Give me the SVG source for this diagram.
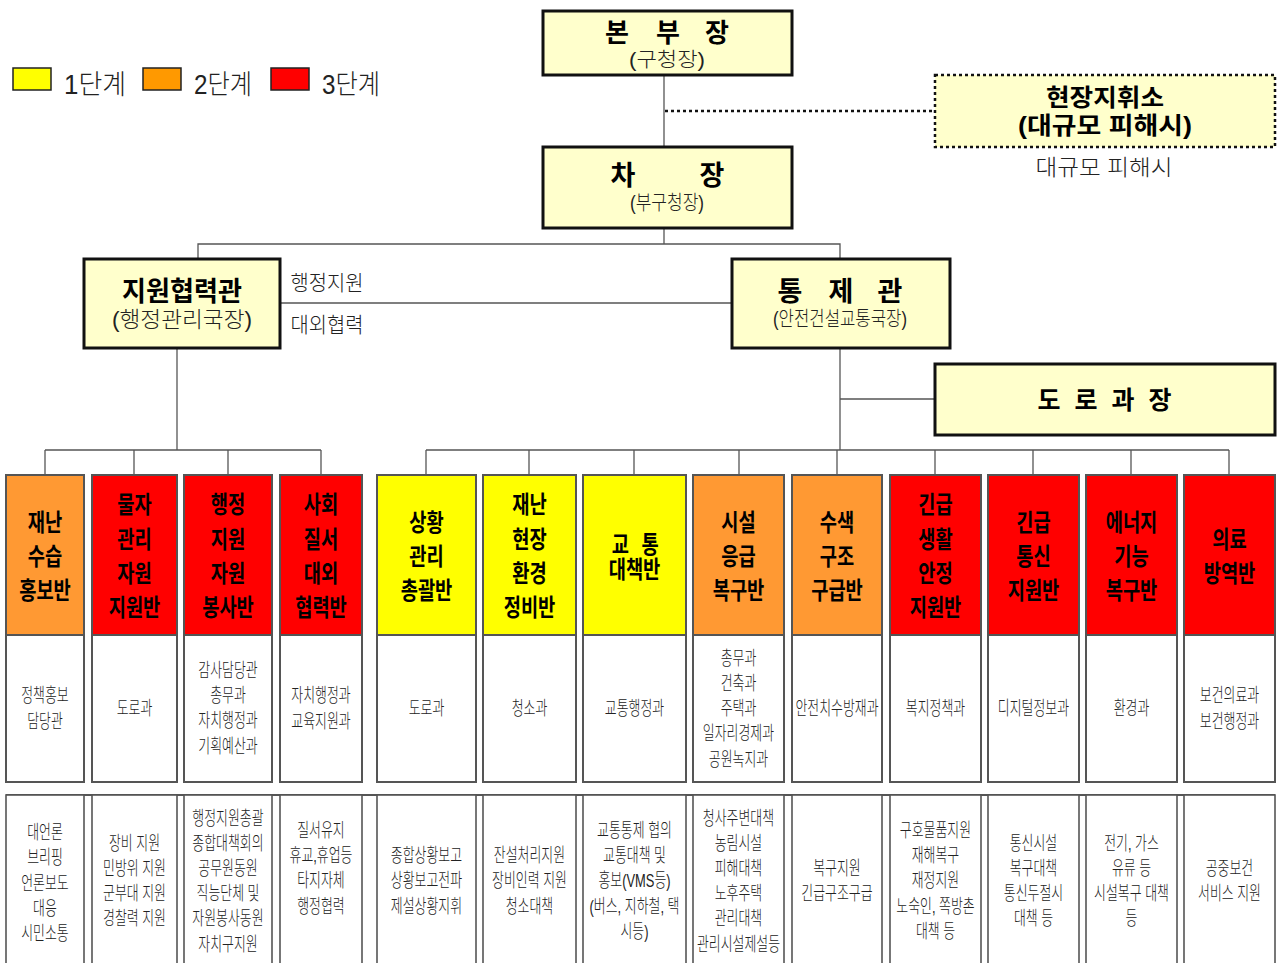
<svg xmlns="http://www.w3.org/2000/svg" width="1279" height="963" viewBox="0 0 1279 963">
<style>
.top{fill:#FFFFCC;stroke:#111;stroke-width:3}
.tb{font-family:'Liberation Sans','Noto Sans CJK KR',sans-serif;font-weight:700;fill:#000;text-anchor:middle}
.tl{font-family:'Liberation Sans','Noto Sans CJK KR',sans-serif;font-weight:300;fill:#222;text-anchor:middle}
.hd{font-family:'Liberation Sans','Noto Sans CJK KR',sans-serif;font-weight:700;font-size:24px;fill:#000;text-anchor:middle}
.sm{font-family:'Liberation Sans','Noto Sans CJK KR',sans-serif;font-weight:300;font-size:19px;fill:#222;text-anchor:middle}
.con{stroke:#555;stroke-width:1.3;fill:none}
.box{stroke:#555;stroke-width:2}
.y{fill:#FFFF00}.o{fill:#FF9933}.r{fill:#FF0000}.w{fill:#fff}
</style>

<!-- legend -->
<g id="legend">
<rect x="13" y="68" width="38" height="22" fill="#FFFF00" stroke="#222" stroke-width="1.5"/>
<text class="tl" x="95" y="94" font-size="27" textLength="62" lengthAdjust="spacingAndGlyphs">1단계</text>
<rect x="143" y="68" width="38" height="22" fill="#FF9900" stroke="#222" stroke-width="1.5"/>
<text class="tl" x="223" y="94" font-size="27" textLength="58" lengthAdjust="spacingAndGlyphs">2단계</text>
<rect x="271" y="68" width="38" height="22" fill="#FF0000" stroke="#222" stroke-width="1.5"/>
<text class="tl" x="351" y="94" font-size="27" textLength="58" lengthAdjust="spacingAndGlyphs">3단계</text>
</g>

<!-- connectors -->
<g id="connectors">
<line class="con" x1="664" y1="75" x2="664" y2="147"/>
<line x1="665" y1="111" x2="935" y2="111" stroke="#111" stroke-width="2.5" stroke-dasharray="3 3"/>
<line class="con" x1="664" y1="228" x2="664" y2="244"/>
<polyline class="con" points="198,259 198,244 840,244 840,259"/>
<line class="con" x1="280" y1="303" x2="732" y2="303"/>
<line class="con" x1="177" y1="348" x2="177" y2="450"/>
<line class="con" x1="840" y1="348" x2="840" y2="450"/>
<line class="con" x1="840" y1="399" x2="935" y2="399"/>
<line class="con" x1="45" y1="450" x2="321" y2="450"/>
<line class="con" x1="45" y1="450" x2="45" y2="475"/>
<line class="con" x1="134" y1="450" x2="134" y2="475"/>
<line class="con" x1="228" y1="450" x2="228" y2="475"/>
<line class="con" x1="321" y1="450" x2="321" y2="475"/>
<line class="con" x1="426" y1="450" x2="1229" y2="450"/>
<line class="con" x1="426" y1="450" x2="426" y2="475"/>
<line class="con" x1="529" y1="450" x2="529" y2="475"/>
<line class="con" x1="634" y1="450" x2="634" y2="475"/>
<line class="con" x1="739" y1="450" x2="739" y2="475"/>
<line class="con" x1="837" y1="450" x2="837" y2="475"/>
<line class="con" x1="935" y1="450" x2="935" y2="475"/>
<line class="con" x1="1033" y1="450" x2="1033" y2="475"/>
<line class="con" x1="1131" y1="450" x2="1131" y2="475"/>
<line class="con" x1="1229" y1="450" x2="1229" y2="475"/>
<text class="tl" x="327" y="290" font-size="21" textLength="73" lengthAdjust="spacingAndGlyphs">행정지원</text>
<text class="tl" x="327" y="332" font-size="21" textLength="73" lengthAdjust="spacingAndGlyphs">대외협력</text>
</g>

<!-- top nodes -->
<g id="n-bonbu">
<rect class="top" x="543" y="11" width="249" height="64"/>
<text class="tb" font-size="26" x="617" y="42">본</text>
<text class="tb" font-size="26" x="668" y="42">부</text>
<text class="tb" font-size="26" x="717" y="42">장</text>
<text class="tl" font-size="20" x="667" y="67" textLength="76" lengthAdjust="spacingAndGlyphs">(구청장)</text>
</g>
<g id="n-hyeonjang">
<rect x="935" y="75" width="340" height="72" fill="#FFFFCC" stroke="#111" stroke-width="2.5" stroke-dasharray="3 3"/>
<text class="tb" font-size="24" x="1105" y="106" textLength="118" lengthAdjust="spacingAndGlyphs">현장지휘소</text>
<text class="tb" font-size="24" x="1105" y="134" textLength="174" lengthAdjust="spacingAndGlyphs">(대규모 피해시)</text>
<text class="tl" font-size="22" x="1104" y="175" textLength="137" lengthAdjust="spacingAndGlyphs">대규모 피해시</text>
</g>
<g id="n-chajang">
<rect class="top" x="543" y="147" width="249" height="81"/>
<text class="tb" font-size="27" x="623" y="185">차</text>
<text class="tb" font-size="27" x="712" y="185">장</text>
<text class="tl" font-size="20" x="667" y="210" textLength="74" lengthAdjust="spacingAndGlyphs">(부구청장)</text>
</g>
<g id="n-jiwon">
<rect class="top" x="84" y="259" width="196" height="89"/>
<text class="tb" font-size="27" x="182" y="301" textLength="120" lengthAdjust="spacingAndGlyphs">지원협력관</text>
<text class="tl" font-size="22" x="182" y="327" textLength="140" lengthAdjust="spacingAndGlyphs">(행정관리국장)</text>
</g>
<g id="n-tongje">
<rect class="top" x="732" y="259" width="218" height="89"/>
<text class="tb" font-size="27" x="790" y="301">통</text>
<text class="tb" font-size="27" x="841" y="301">제</text>
<text class="tb" font-size="27" x="890" y="301">관</text>
<text class="tl" font-size="20" x="840" y="326" textLength="134" lengthAdjust="spacingAndGlyphs">(안전건설교통국장)</text>
</g>
<g id="n-doro">
<rect class="top" x="935" y="364" width="340" height="71"/>
<text class="tb" font-size="25" x="1049" y="409">도</text>
<text class="tb" font-size="25" x="1086" y="409">로</text>
<text class="tb" font-size="25" x="1123" y="409">과</text>
<text class="tb" font-size="25" x="1160" y="409">장</text>
</g>

<!-- columns -->
<g id="c1">
<rect class="box o" x="6" y="475" width="78" height="160"/><rect class="box w" x="6" y="635" width="78" height="147"/>
<g transform="translate(45 0) scale(0.78 1)"><text class="hd" y="531">재난</text><text class="hd" y="565">수습</text><text class="hd" y="599">홍보반</text></g>
<g transform="translate(45 0) scale(0.68 1)"><text class="sm" y="702">정책홍보</text><text class="sm" y="728">담당관</text></g>
</g>
<g id="c2">
<rect class="box r" x="92" y="475" width="85" height="160"/><rect class="box w" x="92" y="635" width="85" height="147"/>
<g transform="translate(134.5 0) scale(0.78 1)"><text class="hd" y="513">물자</text><text class="hd" y="548">관리</text><text class="hd" y="582">자원</text><text class="hd" y="616">지원반</text></g>
<g transform="translate(134.5 0) scale(0.68 1)"><text class="sm" y="715">도로과</text></g>
</g>
<g id="c3">
<rect class="box r" x="184" y="475" width="88" height="160"/><rect class="box w" x="184" y="635" width="88" height="147"/>
<g transform="translate(228 0) scale(0.78 1)"><text class="hd" y="513">행정</text><text class="hd" y="548">지원</text><text class="hd" y="582">자원</text><text class="hd" y="616">봉사반</text></g>
<g transform="translate(228 0) scale(0.68 1)"><text class="sm" y="677">감사담당관</text><text class="sm" y="702">총무과</text><text class="sm" y="727">자치행정과</text><text class="sm" y="753">기획예산과</text></g>
</g>
<g id="c4">
<rect class="box r" x="280" y="475" width="82" height="160"/><rect class="box w" x="280" y="635" width="82" height="147"/>
<g transform="translate(321 0) scale(0.78 1)"><text class="hd" y="513">사회</text><text class="hd" y="548">질서</text><text class="hd" y="582">대외</text><text class="hd" y="616">협력반</text></g>
<g transform="translate(321 0) scale(0.68 1)"><text class="sm" y="702">자치행정과</text><text class="sm" y="728">교육지원과</text></g>
</g>
<g id="c5">
<rect class="box y" x="377" y="475" width="99" height="160"/><rect class="box w" x="377" y="635" width="99" height="147"/>
<g transform="translate(426.5 0) scale(0.78 1)"><text class="hd" y="531">상황</text><text class="hd" y="565">관리</text><text class="hd" y="599">총괄반</text></g>
<g transform="translate(426.5 0) scale(0.68 1)"><text class="sm" y="715">도로과</text></g>
</g>
<g id="c6">
<rect class="box y" x="483" y="475" width="93" height="160"/><rect class="box w" x="483" y="635" width="93" height="147"/>
<g transform="translate(529.5 0) scale(0.78 1)"><text class="hd" y="513">재난</text><text class="hd" y="548">현장</text><text class="hd" y="582">환경</text><text class="hd" y="616">정비반</text></g>
<g transform="translate(529.5 0) scale(0.68 1)"><text class="sm" y="715">청소과</text></g>
</g>
<g id="c7">
<rect class="box y" x="583" y="475" width="103" height="160"/><rect class="box w" x="583" y="635" width="103" height="147"/>
<g transform="translate(634.5 0) scale(0.78 1)"><text class="hd" y="553" font-size="22px" x="-18">교</text><text class="hd" y="553" font-size="22px" x="20">통</text><text class="hd" y="578" font-size="22px">대책반</text></g>
<g transform="translate(634.5 0) scale(0.68 1)"><text class="sm" y="715">교통행정과</text></g>
</g>
<g id="c8">
<rect class="box o" x="693" y="475" width="91" height="160"/><rect class="box w" x="693" y="635" width="91" height="147"/>
<g transform="translate(738.5 0) scale(0.78 1)"><text class="hd" y="531">시설</text><text class="hd" y="565">응급</text><text class="hd" y="599">복구반</text></g>
<g transform="translate(738.5 0) scale(0.68 1)"><text class="sm" y="665">총무과</text><text class="sm" y="690">건축과</text><text class="sm" y="715">주택과</text><text class="sm" y="740">일자리경제과</text><text class="sm" y="766">공원녹지과</text></g>
</g>
<g id="c9">
<rect class="box o" x="792" y="475" width="90" height="160"/><rect class="box w" x="792" y="635" width="90" height="147"/>
<g transform="translate(837 0) scale(0.78 1)"><text class="hd" y="531">수색</text><text class="hd" y="565">구조</text><text class="hd" y="599">구급반</text></g>
<g transform="translate(837 0) scale(0.68 1)"><text class="sm" y="715">안전치수방재과</text></g>
</g>
<g id="c10">
<rect class="box r" x="890" y="475" width="91" height="160"/><rect class="box w" x="890" y="635" width="91" height="147"/>
<g transform="translate(935.5 0) scale(0.78 1)"><text class="hd" y="513">긴급</text><text class="hd" y="548">생활</text><text class="hd" y="582">안정</text><text class="hd" y="616">지원반</text></g>
<g transform="translate(935.5 0) scale(0.68 1)"><text class="sm" y="715">복지정책과</text></g>
</g>
<g id="c11">
<rect class="box r" x="988" y="475" width="91" height="160"/><rect class="box w" x="988" y="635" width="91" height="147"/>
<g transform="translate(1033.5 0) scale(0.78 1)"><text class="hd" y="531">긴급</text><text class="hd" y="565">통신</text><text class="hd" y="599">지원반</text></g>
<g transform="translate(1033.5 0) scale(0.68 1)"><text class="sm" y="715">디지털정보과</text></g>
</g>
<g id="c12">
<rect class="box r" x="1086" y="475" width="91" height="160"/><rect class="box w" x="1086" y="635" width="91" height="147"/>
<g transform="translate(1131.5 0) scale(0.78 1)"><text class="hd" y="531">에너지</text><text class="hd" y="565">기능</text><text class="hd" y="599">복구반</text></g>
<g transform="translate(1131.5 0) scale(0.68 1)"><text class="sm" y="715">환경과</text></g>
</g>
<g id="c13">
<rect class="box r" x="1184" y="475" width="91" height="160"/><rect class="box w" x="1184" y="635" width="91" height="147"/>
<g transform="translate(1229.5 0) scale(0.78 1)"><text class="hd" y="548">의료</text><text class="hd" y="582">방역반</text></g>
<g transform="translate(1229.5 0) scale(0.68 1)"><text class="sm" y="702">보건의료과</text><text class="sm" y="728">보건행정과</text></g>
</g>

<!-- bottom task row -->
<g id="tasks">
<line x1="6" y1="795" x2="1275" y2="795" stroke="#555" stroke-width="2"/>
<g fill="#fff" stroke="#555" stroke-width="1.6">
<rect x="6" y="795" width="78" height="180"/>
<rect x="92" y="795" width="85" height="180"/>
<rect x="184" y="795" width="88" height="180"/>
<rect x="280" y="795" width="82" height="180"/>
<rect x="377" y="795" width="99" height="180"/>
<rect x="483" y="795" width="93" height="180"/>
<rect x="583" y="795" width="103" height="180"/>
<rect x="693" y="795" width="91" height="180"/>
<rect x="792" y="795" width="90" height="180"/>
<rect x="890" y="795" width="91" height="180"/>
<rect x="988" y="795" width="91" height="180"/>
<rect x="1086" y="795" width="91" height="180"/>
<rect x="1184" y="795" width="91" height="180"/>
</g>
<g transform="translate(45 0) scale(0.68 1)"><text class="sm" y="839">대언론</text><text class="sm" y="864">브리핑</text><text class="sm" y="890">언론보도</text><text class="sm" y="915">대응</text><text class="sm" y="940">시민소통</text></g>
<g transform="translate(134.5 0) scale(0.68 1)"><text class="sm" y="850">장비 지원</text><text class="sm" y="875">민방위 지원</text><text class="sm" y="900">군부대 지원</text><text class="sm" y="925">경찰력 지원</text></g>
<g transform="translate(228 0) scale(0.68 1)"><text class="sm" y="825">행정지원총괄</text><text class="sm" y="850">종합대책회의</text><text class="sm" y="875">공무원동원</text><text class="sm" y="900">직능단체 및</text><text class="sm" y="925">자원봉사동원</text><text class="sm" y="951">자치구지원</text></g>
<g transform="translate(321 0) scale(0.68 1)"><text class="sm" y="837">질서유지</text><text class="sm" y="862">휴교,휴업등</text><text class="sm" y="887">타지자체</text><text class="sm" y="913">행정협력</text></g>
<g transform="translate(426.5 0) scale(0.68 1)"><text class="sm" y="862">종합상황보고</text><text class="sm" y="887">상황보고전파</text><text class="sm" y="913">제설상황지휘</text></g>
<g transform="translate(529.5 0) scale(0.68 1)"><text class="sm" y="862">잔설처리지원</text><text class="sm" y="887">장비인력 지원</text><text class="sm" y="913">청소대책</text></g>
<g transform="translate(634.5 0) scale(0.68 1)"><text class="sm" y="837">교통통제 협의</text><text class="sm" y="862">교통대책 및</text><text class="sm" y="887">홍보(VMS등)</text><text class="sm" y="913">(버스, 지하철, 택</text><text class="sm" y="938">시등)</text></g>
<g transform="translate(738.5 0) scale(0.68 1)"><text class="sm" y="825">청사주변대책</text><text class="sm" y="850">농림시설</text><text class="sm" y="875">피해대책</text><text class="sm" y="900">노후주택</text><text class="sm" y="925">관리대책</text><text class="sm" y="951">관리시설제설등</text></g>
<g transform="translate(837 0) scale(0.68 1)"><text class="sm" y="875">복구지원</text><text class="sm" y="900">긴급구조구급</text></g>
<g transform="translate(935.5 0) scale(0.68 1)"><text class="sm" y="837">구호물품지원</text><text class="sm" y="862">재해복구</text><text class="sm" y="887">재정지원</text><text class="sm" y="913">노숙인, 쪽방촌</text><text class="sm" y="938">대책 등</text></g>
<g transform="translate(1033.5 0) scale(0.68 1)"><text class="sm" y="850">통신시설</text><text class="sm" y="875">복구대책</text><text class="sm" y="900">통신두절시</text><text class="sm" y="925">대책 등</text></g>
<g transform="translate(1131.5 0) scale(0.68 1)"><text class="sm" y="850">전기, 가스</text><text class="sm" y="875">유류 등</text><text class="sm" y="900">시설복구 대책</text><text class="sm" y="925">등</text></g>
<g transform="translate(1229.5 0) scale(0.68 1)"><text class="sm" y="875">공중보건</text><text class="sm" y="900">서비스 지원</text></g>
</g>
</svg>
